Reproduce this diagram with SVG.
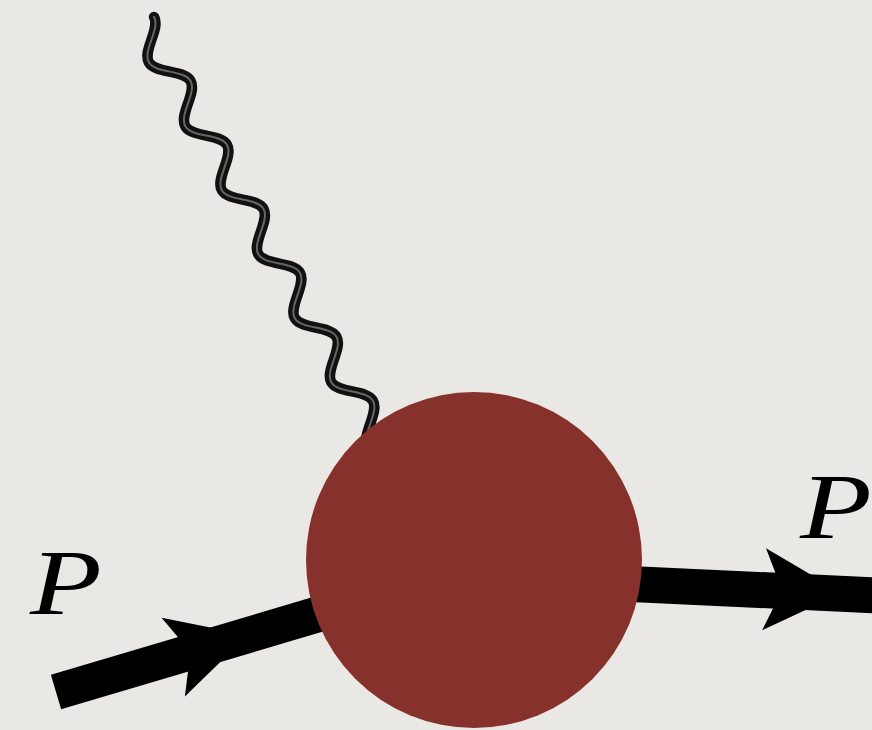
<svg xmlns="http://www.w3.org/2000/svg" xmlns:xlink="http://www.w3.org/1999/xlink" width="872" height="730" viewBox="0 0 872 730">
  <style>
    .fermion { stroke: #000; stroke-width: 36; fill: none; stroke-linecap: butt; }
    .arrow { fill: #000; }
    .photon { fill: none; stroke: #111; stroke-width: 10.5; stroke-linecap: round; stroke-linejoin: round; }
    .photon-core { fill: none; stroke: #666; stroke-width: 2; stroke-linecap: round; }
    .label { font-family: "Liberation Serif", "DejaVu Serif", serif; font-style: italic; font-size: 94px; fill: #000; }
    .blob { fill: #86312b; }
  </style>
  <defs>
    <path id="head" d="M0 0 L-78 -41 L-60 0 L-78 41 Z"/>
    <path id="wave" d="M93.1 129 C106.5 129 116.55 102 129.95 102 S153.4 129 166.8 129 S190.25 102 203.65 102 S227.1 129 240.5 129 S263.95 102 277.35 102 S300.8 129 314.2 129 S337.65 102 351.05 102 S374.5 129 387.9 129 S411.35 102 424.75 102 S448.2 129 461.6 129 S485.05 102 498.45 102 S521.9 129 535.3 129 S558.75 102 572.15 102"/>
  </defs>
  <rect x="0" y="0" width="872" height="730" fill="#eae8e4"/>
  <g id="connectors">
    <g id="photon" transform="translate(-4,0) matrix(0.495 0.868 0.868 -0.495 0 0)">
      <use xlink:href="#wave" class="photon"/>
      <use xlink:href="#wave" class="photon-core"/>
    </g>
    <g id="incoming">
      <line class="fermion" x1="56" y1="692" x2="420" y2="584"/>
      <use xlink:href="#head" class="arrow" transform="translate(248,635) rotate(-16.5)"/>
    </g>
    <g id="outgoing">
      <line class="fermion" x1="480" y1="577" x2="890" y2="596"/>
      <use xlink:href="#head" class="arrow" transform="translate(842,593) rotate(2.7)"/>
    </g>
  </g>
  <g id="vertex">
    <circle class="blob" cx="474" cy="560" r="168"/>
  </g>
  <g id="label-in">
    <text class="label" transform="translate(30,614) scale(1.25,1)">P</text>
  </g>
  <g id="label-out">
    <text class="label" transform="translate(800,538) scale(1.25,1)">P</text>
  </g>
</svg>
